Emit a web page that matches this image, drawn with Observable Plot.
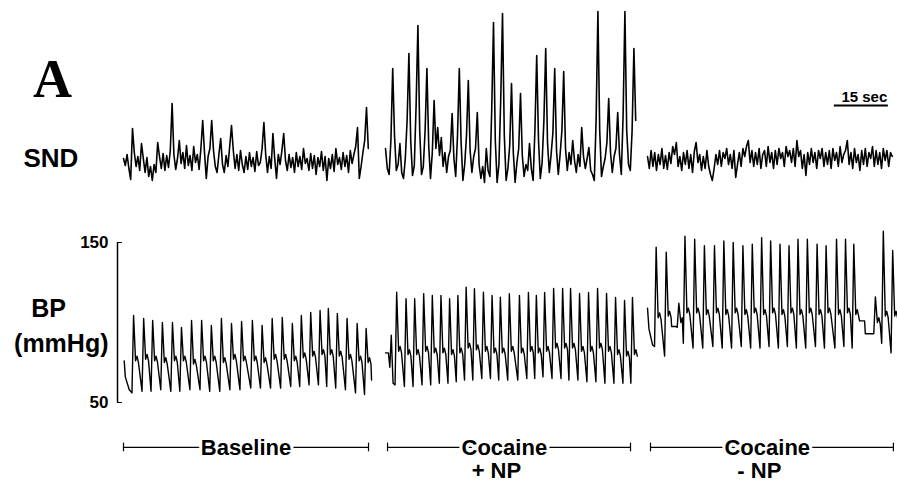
<!DOCTYPE html>
<html>
<head>
<meta charset="utf-8">
<script src="https://cdn.jsdelivr.net/npm/d3@7"></script>
<script src="https://cdn.jsdelivr.net/npm/@observablehq/plot@0.6"></script>
<style>
html, body { margin: 0; padding: 0; background: #fff; }
#chart { width: 897px; height: 489px; position: relative; overflow: hidden; }
#chart svg { display: block; }
</style>
</head>
<body>
<div id="chart"></div>
<script>
// ---------- DATA ----------
// Three recording periods; times in seconds relative to each period's start
const periods = ["Baseline", "Cocaine + NP", "Cocaine - NP"];
const periodOffsets = [0, 72.78, 145.56];          // start of each period on the shared time axis (s)
const bracketTitles = ["Baseline", "Cocaine", "Cocaine"];
const bracketSubtitles = ["", "+ NP", "- NP"];
const bracketSpans = [[0, 68.06], [0.56, 68.06], [0.83, 68.3]];
const scaleBarSeconds = 15;
const bpTicks = [50, 150];

// SND (arbitrary units), sampled every 0.5 s
const sndStep = 0.5;
const sndBaseline = [2,-5,6,-8,-19,32,8,-6,4,-10,
  17,2,-12,3,-16,-6,-20,-4,-12,18,
  4,-8,7,-10,5,-7,10,57,6,-9,
  2,20,-3,8,-8,15,-5,5,-10,14,
  -2,6,-9,12,40,8,-18,4,12,40,
  10,-6,-12,6,22,-4,-12,5,-6,14,
  35,10,-8,6,-10,10,-4,-12,4,-9,
  8,-6,3,-11,9,-5,-2,12,38,6,
  -12,4,-8,27,2,-18,6,-4,10,27,
  0,-10,6,-7,3,-12,8,-6,4,-9,
  12,-3,2,-10,7,-8,5,-14,3,-6,
  9,-10,4,-20,2,-8,6,-11,12,-4,
  3,-9,8,-6,5,-12,10,-3,6,14,
  33,-18,-6,8,20,53,12];
const sndCocaineNP = [12,-8,-14,20,92,25,-10,-4,17,-12,
  -18,2,40,107,20,-15,-5,55,135,30,
  -14,-6,30,92,15,-18,8,60,12,33,
  5,23,-6,8,-12,4,10,47,2,-16,
  25,92,18,-20,-4,25,80,10,-12,4,
  12,48,-4,-18,-6,-22,12,-10,-16,50,
  138,20,-22,-4,60,147,25,-20,-8,15,
  77,8,-22,-2,12,67,5,-16,-4,-10,
  17,-8,-20,30,105,20,-18,-2,40,112,
  18,-12,6,28,92,10,-14,6,30,89,
  12,-10,8,-4,20,0,-12,6,-6,33,
  4,-8,2,13,-10,-14,-20,40,149,30,
  -16,-6,2,18,62,8,-12,4,12,48,
  6,-14,45,149,30,-4,-10,30,112,40];
const sndCocaineNoNP = [4,-8,10,-6,8,-10,6,-4,12,-8,
  5,-9,8,-3,14,6,18,-6,4,-10,
  8,-4,10,-8,6,-12,9,18,-2,6,
  -10,4,-8,10,-6,-14,-20,-8,6,-4,
  10,-6,8,2,12,-4,6,-8,10,-17,
  -4,8,-6,12,4,14,20,-2,10,-6,
  8,-4,12,-8,6,10,-6,14,-2,8,
  -8,10,-4,12,2,8,-6,14,4,10,
  -2,12,-6,20,4,10,-8,6,-15,8,
  -4,12,-2,8,-8,10,2,12,-6,8,
  -4,10,-8,12,0,8,-6,14,-2,6,
  10,20,-4,8,-8,12,-2,6,-10,10,
  -4,12,-6,8,2,14,-6,10,-4,8,
  -8,12,0,10,-6,8,4];

// BP (mmHg): beat times (s), systolic peaks, diastolic feet, dicrotic notch level
const bpBaselineT = [2.8,5.6,8.1,10.8,13.6,16.1,18.9,21.7,24.4,27.2,30.0,32.8,35.8,38.5,41.3,44.1,46.9,49.4,52.0,54.6,56.9,59.4,62.1,64.9,67.4];
const bpBaselineSys = [104.4,102.5,101.3,100,100,96.9,101.3,101.3,98.1,102.5,99.4,100.6,101.3,98.1,102.5,103.1,99.4,104.4,106.3,107.5,108.8,105.6,102.5,99.4,96.3];
const bpBaselineDia = [56,57,57,58,57,57,58,58,57,57,58,58,59,59,59,59,60,60,61,61,60,59,58,56,55];
const bpBaselineNotch = [76,77,76,75,76,76,74,76,76,75,77,76,76,75,77,77,76,78,79,80,80,79,77,76,75];
const bpBaselineExtra = [[0.2,76],[0.5,66],[1.6,58],[68.9,64]];

const bpNPT = [3.1,5.7,8.1,10.6,13.0,15.4,17.8,20.1,22.4,24.7,27.2,29.6,31.9,34.4,37.2,39.7,41.9,44.2,46.7,49.2,51.4,53.9,56.4,58.9,61.4,63.9,66.4,68.6];
const bpNPSys = [118.9,114.8,114.8,118,116.9,116.9,114.8,116.9,122.1,121.1,118.9,116.9,115.8,118,116.9,118.8,116.9,118.8,121.3,121.3,121.3,118.1,118.8,121.3,118.1,115.6,113.8,115.6];
const bpNPDia = [61,60,60,61,61,62,62,63,64,64,65,65,64,64,64,65,65,66,65,65,64,64,63,63,62,62,62,62];
const bpNPNotch = [82,80,80,82,81,81,80,81,84,83,82,81,81,82,81,82,81,82,84,84,84,82,82,84,82,80,79,80];
const bpNPExtra = [[0,81],[0.8,81],[1.2,72],[1.6,92],[2.1,62]];

const bpNoNPT = [2.4,5.2,8.7,10.4,13.1,15.8,18.6,21.2,23.8,26.5,29.1,31.7,34.2,36.8,39.3,41.8,44.4,47.1,49.6,52.5,55.0,57.3,63.3,65.5,68.1];
const bpNoNPSys = [147,144,112,154,152,148,148,151,150,148,149,153,151,149,148,152,152,149,148,152,152,149,116,157,145];
const bpNoNPDia = [85,79,97,87,84,84,85,84,84,85,84,84,85,84,85,84,84,85,84,84,85,84,93,87,81];
const bpNoNPNotch = [103,104,100,106,106,105,106,105,106,105,106,105,106,105,106,105,106,105,106,105,106,105,100,104,104];
const bpNoNPExtra = [[0,109],[0.4,96],[1.4,86],[6.7,97.5],[7.9,97.5],[58.9,101],[60.3,101],[60.5,93],[62.5,93]];

// ---------- BUILD TABLES ----------
function sndRows(seg, vals) {
  return vals.map((v, i) => ({t: periodOffsets[seg] + i * sndStep, v, seg}));
}
function bpRows(seg, T, sys, dia, notch, extra) {
  const pts = [];
  T.forEach((t, i) => {
    const nextFoot = i + 1 < T.length ? T[i + 1] - 0.45 : Infinity;
    pts.push([t - 0.45, dia[i]], [t, sys[i]]);
    [[0.55, notch[i]], [0.95, notch[i] + 3], [1.35, notch[i] - 1]].forEach(([dt, v]) => {
      if (t + dt < nextFoot - 0.1) pts.push([t + dt, v]);
    });
  });
  extra.forEach(p => pts.push(p));
  pts.sort((a, b) => a[0] - b[0]);
  return pts.map(([t, v]) => ({t: periodOffsets[seg] + t, v, seg}));
}
const snd = [
  ...sndRows(0, sndBaseline),
  ...sndRows(1, sndCocaineNP),
  ...sndRows(2, sndCocaineNoNP)
];
const bp = [
  ...bpRows(0, bpBaselineT, bpBaselineSys, bpBaselineDia, bpBaselineNotch, bpBaselineExtra),
  ...bpRows(1, bpNPT, bpNPSys, bpNPDia, bpNPNotch, bpNPExtra),
  ...bpRows(2, bpNoNPT, bpNoNPSys, bpNoNPDia, bpNoNPNotch, bpNoNPExtra)
];
const brackets = periods.map((p, i) => ({
  x1: periodOffsets[i] + bracketSpans[i][0],
  x2: periodOffsets[i] + bracketSpans[i][1],
  title: bracketTitles[i],
  sub: bracketSubtitles[i],
  seg: i
}));
const bracketEnds = brackets.flatMap(b => [b.x1, b.x2]);

// ---------- LAYOUT ----------
const SANS = "Liberation Sans, Arial, Helvetica, sans-serif";
const pxPerSec = 3.6, x0 = 123;   // pixel of time 0
const W = 897;

const sndPlot = Plot.plot({
  width: W, height: 205, margin: 0,
  style: {background: "white", overflow: "visible"},
  x: {domain: [-x0 / pxPerSec, (W - x0) / pxPerSec], axis: null},
  y: {domain: [-45, 160], axis: null},
  marks: [
    Plot.line(snd, {x: "t", y: "v", z: "seg", stroke: "#000", strokeWidth: 1.6}),
    Plot.ruleY([55], {x1: periodOffsets[2] + 51.9, x2: periodOffsets[2] + 51.9 + scaleBarSeconds, stroke: "#000", strokeWidth: 2}),
    Plot.text([`${scaleBarSeconds} sec`], {x: periodOffsets[2] + 51.9 + scaleBarSeconds / 2, y: 55, dx: 3, dy: -8,
      fontFamily: SANS, fontWeight: "bold", fontSize: 15, fill: "#000", textAnchor: "middle"}),
    Plot.text(["A"], {frameAnchor: "top-left", dx: 52, dy: 79, textAnchor: "middle", lineAnchor: "middle",
      fontFamily: "Liberation Serif, Times New Roman, serif", fontWeight: "bold", fontSize: 54, fill: "#000"}),
    Plot.text(["SND"], {frameAnchor: "top-left", dx: 23, dy: 158, textAnchor: "start", lineAnchor: "middle",
      fontFamily: SANS, fontWeight: "bold", fontSize: 26, fill: "#000"})
  ]
});

const axisLeftPx = 117;
const bpPlot = Plot.plot({
  width: W, height: 284, marginLeft: axisLeftPx, marginRight: 0, marginTop: 0, marginBottom: 0,
  style: {background: "white", overflow: "visible"},
  x: {domain: [(axisLeftPx - x0) / pxPerSec, (W - x0) / pxPerSec], axis: null},
  y: {domain: [-4.375, 173.125], axis: null},
  marks: [
    Plot.ruleX([(axisLeftPx - x0) / pxPerSec], {y1: bpTicks[0], y2: bpTicks[1], stroke: "#000", strokeWidth: 1.5}),
    Plot.axisY({ticks: bpTicks, anchor: "left", tickSize: -5, tickPadding: 14, tickFormat: d => String(d),
      fontSize: 17, fontWeight: "bold", fontFamily: SANS, stroke: "#000", color: "#000", label: null}),
    Plot.line(bp, {x: "t", y: "v", z: "seg", stroke: "#000", strokeWidth: 1.4}),
    Plot.text(["BP"], {frameAnchor: "top-left", dx: 48 - axisLeftPx, dy: 103, textAnchor: "middle", lineAnchor: "middle",
      fontFamily: SANS, fontWeight: "bold", fontSize: 25, fill: "#000"}),
    Plot.text(["(mmHg)"], {frameAnchor: "top-left", dx: 108 - axisLeftPx, dy: 138, textAnchor: "end", lineAnchor: "middle",
      fontFamily: SANS, fontWeight: "bold", fontSize: 25, fill: "#000"}),
    // period brackets
    Plot.ruleY(brackets, {x1: "x1", x2: "x2", y: 21.9, stroke: "#000", strokeWidth: 1.2}),
    Plot.ruleX(bracketEnds, {x: d => d, y1: 19.2, y2: 24.6, stroke: "#000", strokeWidth: 1.2}),
    Plot.text(brackets, {x: d => (d.x1 + d.x2) / 2 - (d.seg === 0 ? 0 : 1.3), y: 21.9, text: "title",
      fontFamily: SANS, fontWeight: "bold", fontSize: 22, fill: "#000", stroke: "white", strokeWidth: 6,
      textAnchor: "middle", lineAnchor: "middle"}),
    Plot.text(brackets.filter(b => b.sub), {x: d => (d.x1 + d.x2) / 2 - 3.5, y: 7.5, text: "sub",
      fontFamily: SANS, fontWeight: "bold", fontSize: 22, fill: "#000", textAnchor: "middle", lineAnchor: "middle"})
  ]
});

const chart = document.getElementById("chart");
chart.appendChild(sndPlot);
chart.appendChild(bpPlot);
</script>
</body>
</html>
